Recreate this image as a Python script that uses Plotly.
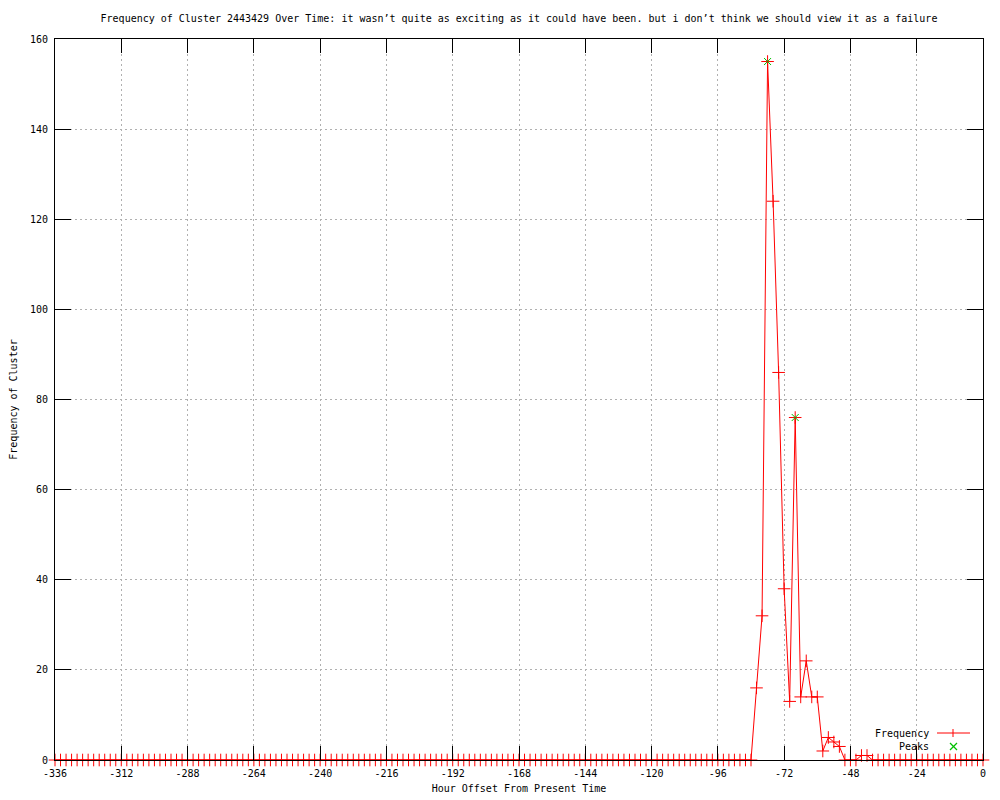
import plotly.graph_objects as go

# Sampling grid: every 2 hours from -336 to 0
hours = list(range(-336, 1, 2))

freq = [
    0, 0, 0, 0, 0, 0, 0, 0, 0, 0, 0, 0, 0, 0, 0, 0, 0, 0, 0, 0,   # -336 .. -298
    0, 0, 0, 0, 0, 0, 0, 0, 0, 0, 0, 0, 0, 0, 0, 0, 0, 0, 0, 0,   # -296 .. -258
    0, 0, 0, 0, 0, 0, 0, 0, 0, 0, 0, 0, 0, 0, 0, 0, 0, 0, 0, 0,   # -256 .. -218
    0, 0, 0, 0, 0, 0, 0, 0, 0, 0, 0, 0, 0, 0, 0, 0, 0, 0, 0, 0,   # -216 .. -178
    0, 0, 0, 0, 0, 0, 0, 0, 0, 0, 0, 0, 0, 0, 0, 0, 0, 0, 0, 0,   # -176 .. -138
    0, 0, 0, 0, 0, 0, 0, 0, 0, 0, 0, 0, 0, 0, 0, 0, 0, 0, 0, 0,   # -136 .. -98
    0, 0, 0, 0, 0, 0, 0,                                          # -96 .. -84
    16, 32, 155, 124, 86, 38, 13, 76, 14, 22, 14, 14, 2, 5, 4, 3, # -82 .. -52
    0, 0, 0, 1, 1, 0,                                             # -50 .. -40
    0, 0, 0, 0, 0, 0, 0, 0, 0, 0, 0, 0, 0, 0, 0, 0, 0, 0, 0, 0,   # -38 .. 0
]

peak_hours = [-78, -68]
peak_vals = [155, 76]

x_tickvals = [-336, -312, -288, -264, -240, -216, -192, -168, -144, -120, -96, -72, -48, -24, 0]
x_ticktext = ["-336", "-312", "-288", "-264", "-240", "-216", "-192", "-168", "-144", "-120",
              "-96", "-72", "-48", "-24", "0"]
y_tickvals = [0, 20, 40, 60, 80, 100, 120, 140, 160]
y_ticktext = ["0", "20", "40", "60", "80", "100", "120", "140", "160"]

title_text = ("Frequency of Cluster 2443429 Over Time: it wasn\u2019t quite as exciting as it "
              "could have been. but i don\u2019t think we should view it as a failure")

FONT = "DejaVu Sans Mono"
RED = "#ff0000"
GREEN = "#00c000"

fig = go.Figure()
fig.add_trace(go.Scatter(
    x=hours, y=freq, mode="lines+markers", name="Frequency",
    line=dict(color=RED, width=1),
    marker=dict(symbol="cross-thin", size=9, line=dict(color=RED, width=1), color=RED),
    cliponaxis=False, showlegend=False,
))
fig.add_trace(go.Scatter(
    x=peak_hours, y=peak_vals, mode="markers", name="Peaks",
    marker=dict(symbol="x-thin", size=7, line=dict(color=GREEN, width=1), color=GREEN),
    cliponaxis=False, showlegend=False,
))

axis_common = dict(
    showline=True, linecolor="black", linewidth=1, mirror="ticks",
    ticks="inside", tickcolor="black", tickwidth=1,
    showgrid=True, gridcolor="#b0b0b0", gridwidth=1, griddash="2px,3px",
    zeroline=False, tickfont=dict(family=FONT, size=10, color="black"),
    automargin=False,
)

fig.update_xaxes(
    range=[-336, 0], tickmode="array", tickvals=x_tickvals, ticktext=x_ticktext,
    ticklen=14, ticklabelstandoff=4,
    title=dict(text="Hour Offset From Present Time", font=dict(family=FONT, size=10, color="black"),
               standoff=6),
    **axis_common,
)
fig.update_yaxes(
    range=[0, 160], tickmode="array", tickvals=y_tickvals, ticktext=y_ticktext,
    ticklen=16, ticklabelstandoff=4,
    title=dict(text="Frequency of Cluster", font=dict(family=FONT, size=10, color="black"),
               standoff=10),
    **axis_common,
)

# Legend (gnuplot style: text on the left, sample on the right), bottom-right inside plot
def px_x(p):
    return (p - 55) / 928.0

def px_y(p):
    return (760 - p) / 721.0

leg_y1, leg_y2 = px_y(733), px_y(746)
fig.add_annotation(x=px_x(931), y=leg_y1, xref="paper", yref="paper", text="Frequency",
                   showarrow=False, xanchor="right", yanchor="middle",
                   font=dict(family=FONT, size=10, color="black"))
fig.add_annotation(x=px_x(931), y=leg_y2, xref="paper", yref="paper", text="Peaks",
                   showarrow=False, xanchor="right", yanchor="middle",
                   font=dict(family=FONT, size=10, color="black"))
fig.add_shape(type="line", xref="paper", yref="paper", x0=px_x(937), x1=px_x(970),
              y0=leg_y1, y1=leg_y1, line=dict(color=RED, width=1))
fig.add_shape(type="line", xref="paper", yref="paper", x0=px_x(953), x1=px_x(953),
              y0=px_y(729), y1=px_y(737), line=dict(color=RED, width=1))
fig.add_shape(type="line", xref="paper", yref="paper", x0=px_x(950), x1=px_x(957),
              y0=px_y(743), y1=px_y(750), line=dict(color=GREEN, width=1.3))
fig.add_shape(type="line", xref="paper", yref="paper", x0=px_x(950), x1=px_x(957),
              y0=px_y(750), y1=px_y(743), line=dict(color=GREEN, width=1.3))

fig.update_layout(
    width=1000, height=800,
    margin=dict(l=55, r=17, t=39, b=40),
    paper_bgcolor="white", plot_bgcolor="white",
    title=dict(text=title_text, x=0.5, xref="paper", y=1 - 18 / 800, yref="container",
               xanchor="center", yanchor="middle",
               font=dict(family=FONT, size=10, color="black")),
    showlegend=False,
)

fig.write_html("out.html", config={"displayModeBar": False},
               post_script="document.body.style.margin='0';")
